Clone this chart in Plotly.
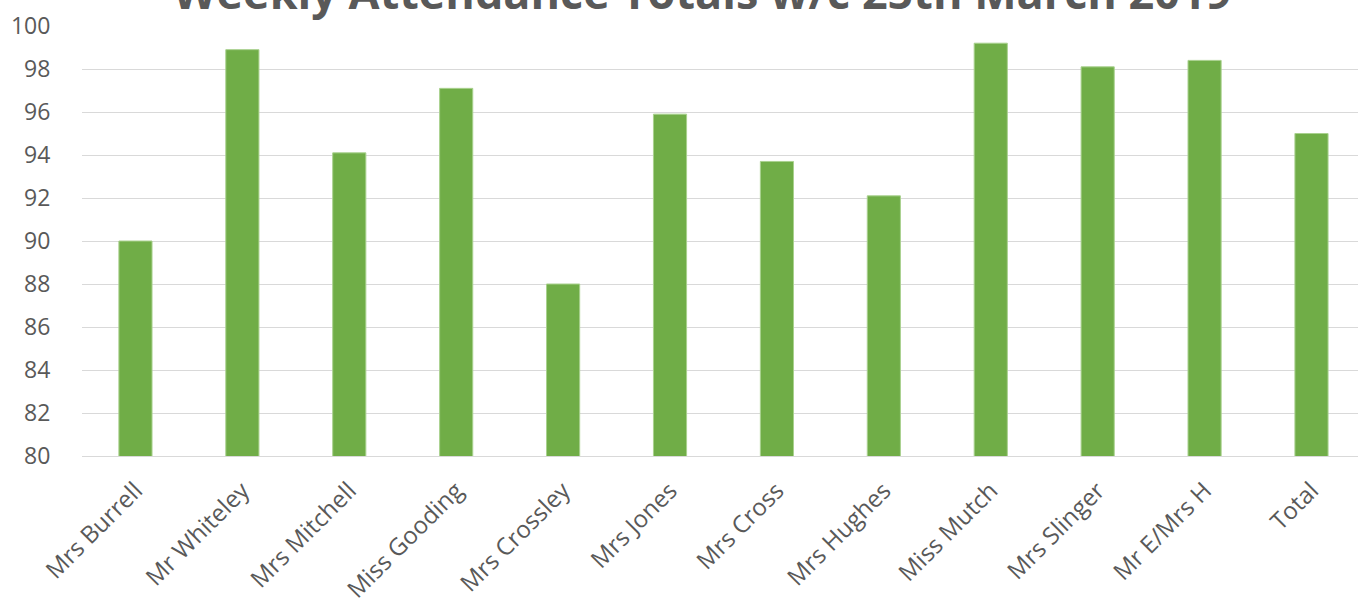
import plotly.graph_objects as go

categories = ["Mrs Burrell", "Mr Whiteley", "Mrs Mitchell", "Miss Gooding", "Mrs Crossley",
              "Mrs Jones", "Mrs Cross", "Mrs Hughes", "Miss Mutch", "Mrs Slinger",
              "Mr E/Mrs H", "Total"]
values = [90.0, 98.9, 94.1, 97.1, 88.0, 95.9, 93.7, 92.1, 99.2, 98.1, 98.4, 95.0]
y_ticks = [80, 82, 84, 86, 88, 90, 92, 94, 96, 98, 100]
title_text = "Weekly Attendance Totals w/c 25th March 2019"

font_family = "Open Sans, Noto Sans, sans-serif"
text_color = "#595959"

fig = go.Figure()
fig.add_trace(go.Bar(
    x=categories, y=values,
    marker=dict(color="#70AD47", line=dict(color="#A9D18E", width=1)),
    width=0.31,
))

fig.update_layout(
    width=1358, height=607,
    margin=dict(l=82, r=0, t=26, b=151),
    paper_bgcolor="white", plot_bgcolor="white",
    showlegend=False,
    font=dict(family=font_family, color=text_color, size=24),
    xaxis=dict(
        type="category",
        range=[-0.5, 11.435],
        tickangle=-45,
        tickfont=dict(size=24, color=text_color),
        showgrid=False,
        showline=True, linecolor="#D9D9D9", linewidth=1,
        ticks="outside", ticklen=10, tickcolor="rgba(0,0,0,0)",
    ),
    yaxis=dict(
        range=[80, 100],
        tickvals=y_ticks,
        tickfont=dict(size=23, color=text_color),
        showgrid=True, gridcolor="#D9D9D9", gridwidth=1.3,
        zeroline=False,
        ticks="outside", ticklen=26, tickcolor="rgba(0,0,0,0)",
    ),
    annotations=[dict(
        text="<b>" + title_text + "</b>",
        x=0.486, xref="paper", y=1.080, yref="paper",
        xanchor="center", yanchor="middle",
        showarrow=False,
        font=dict(size=45, color=text_color, family=font_family),
    )],
)

fig.write_html("out.html")
